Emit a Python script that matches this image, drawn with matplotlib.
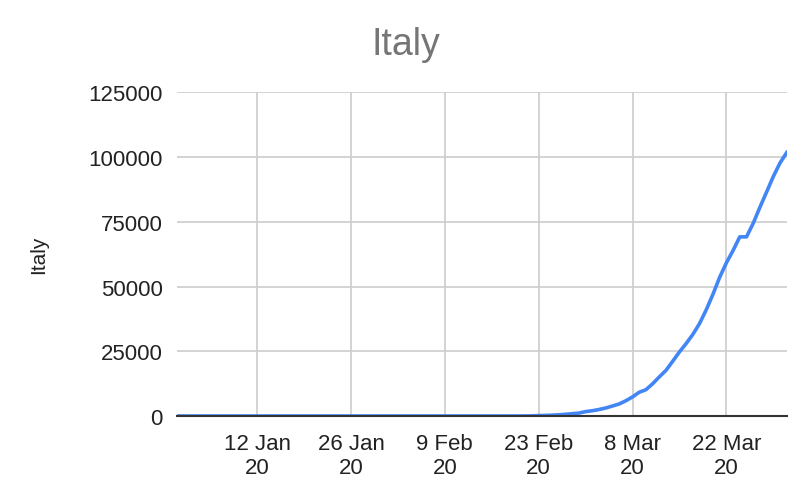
import matplotlib
matplotlib.use("Agg")
import matplotlib.pyplot as plt
import pandas as pd

# cumulative confirmed cases, one value per day from 31 Dec 2019
start_date = "2019-12-31"
zero_days = 31          # 31 Dec .. 30 Jan
early_cases = [2] * 7 + [3] * 14   # 31 Jan .. 20 Feb
cases_feb_mar = [
    20, 62, 155, 229, 322, 453, 655, 888, 1128,            # 21 Feb .. 29 Feb
    1694, 2036, 2502, 3089, 3858, 4636, 5883, 7375, 9172,  # 1 Mar .. 9 Mar
    10149, 12462, 15113, 17660, 21157, 24747, 27980,       # 10 Mar .. 16 Mar
    31506, 35713, 41035, 47021, 53578, 59138, 63927,       # 17 Mar .. 23 Mar
    69176, 69176, 74386, 80589, 86498, 92472, 97689,       # 24 Mar .. 30 Mar
    101739,                                                # 31 Mar
]
cases = [0] * zero_days + early_cases + cases_feb_mar
dates = pd.date_range(start_date, periods=len(cases), freq="D")

tick_dates = pd.to_datetime(["2020-01-12", "2020-01-26", "2020-02-09",
                             "2020-02-23", "2020-03-08", "2020-03-22"])
tick_labels = ["12 Jan\n20", "26 Jan\n20", "9 Feb\n20", "23 Feb\n20", "8 Mar\n20", "22 Mar\n20"]
y_ticks = [0, 25000, 50000, 75000, 100000, 125000]

plt.rcParams["font.family"] = ["Liberation Sans", "DejaVu Sans"]

fig = plt.figure(figsize=(8.12, 5.02), dpi=100)
ax = fig.add_axes((176.7 / 812, 85 / 502, 610 / 812, 323.7 / 502))

ax.plot(dates, cases, color="#4285f4", lw=2.6, solid_joinstyle="round", zorder=3)

ax.set_xlim(dates[0], dates[-1])
ax.set_ylim(0, 125000)
ax.set_xticks(tick_dates)
ax.set_xticklabels(tick_labels, fontsize=16, linespacing=1.2)
ax.set_yticks(y_ticks)
ax.set_yticklabels([str(v) for v in y_ticks], fontsize=16)
ax.tick_params(length=0, pad=10, colors="#222222")
ax.tick_params(axis="x", pad=12)

ax.grid(True, color="#cccccc", lw=1.2)
ax.set_axisbelow(True)
for side in ("top", "right", "left"):
    ax.spines[side].set_visible(False)
ax.spines["bottom"].set_color("#333333")
ax.spines["bottom"].set_linewidth(1.5)
ax.spines["bottom"].set_zorder(4)

ax.set_ylabel("Italy", fontsize=15, color="#222222", labelpad=29)
fig.text(0.5, 1 - 45 / 502, "Italy", ha="center", va="center", fontsize=27, color="#757575")

fig.savefig("out.png", dpi=100, facecolor="white")
